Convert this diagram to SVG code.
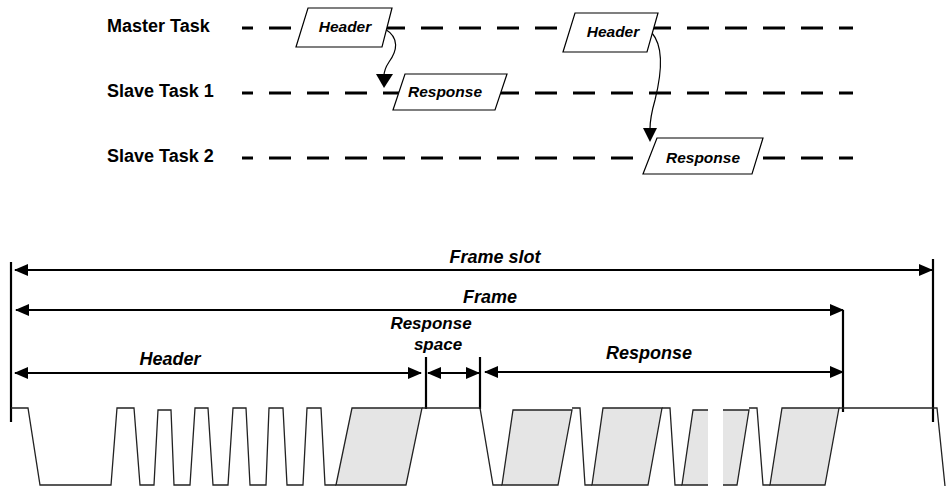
<svg xmlns="http://www.w3.org/2000/svg" width="948" height="486" viewBox="0 0 948 486">
<style>
.lbl{font-family:"Liberation Sans",Arial,sans-serif;font-weight:bold;font-size:18px;fill:#000}
.it{font-family:"Liberation Sans",Arial,sans-serif;font-weight:bold;font-style:italic;fill:#000}
.bx{font-size:15.5px}
.big{font-size:18px}
.sm{font-size:17px}
.dash{stroke:#000;stroke-width:3;stroke-dasharray:22 16;stroke-dashoffset:11;fill:none}
.box{fill:#fff;stroke:#000;stroke-width:1.2}
.curve{fill:none;stroke:#000;stroke-width:1.2}
.dim{stroke:#000;stroke-width:2;fill:none}
.tick{stroke:#000;stroke-width:2.2}
.wave{fill:none;stroke:#222;stroke-width:1.3;stroke-linejoin:miter}
.shade{fill:#e5e5e5;stroke:#222;stroke-width:1.3}
</style>
<defs>
<marker id="ah" markerWidth="14" markerHeight="12" refX="13" refY="6" orient="auto-start-reverse" markerUnits="userSpaceOnUse">
<path d="M0,0 L14,6 L0,12 Z" fill="#000"/>
</marker>
</defs>

<g id="row-labels">
<text class="lbl" x="107" y="32">Master Task</text>
<text class="lbl" x="107" y="97">Slave Task 1</text>
<text class="lbl" x="107" y="162">Slave Task 2</text>
</g>

<g id="timelines">
<line class="dash" x1="242" y1="28" x2="853" y2="28"/>
<line class="dash" x1="242" y1="93" x2="853" y2="93"/>
<line class="dash" x1="242" y1="158" x2="853" y2="158"/>
</g>

<g id="connectors">
<path class="curve" d="M385 29 C400 38,397 51,389 62 C385 68,384 71,384 76"/>
<path d="M376 74 L393 74 L384 88 Z" fill="#000"/>
<path class="curve" d="M652 33 C665 48,661 76,655 100 C651 114,650 121,650 129"/>
<path d="M643 128 L657 128 L650 142 Z" fill="#000"/>
</g>

<g id="header1">
<polygon class="box" points="308,8 392,8 382,47 296,47"/>
<text class="it bx" x="345" y="32" text-anchor="middle">Header</text>
</g>
<g id="response1">
<polygon class="box" points="405,74 507,74 495,110 393,110"/>
<text class="it bx" x="445" y="97" text-anchor="middle">Response</text>
</g>
<g id="header2">
<polygon class="box" points="575,13 658,13 647,52 563,52"/>
<text class="it bx" x="613" y="37" text-anchor="middle">Header</text>
</g>
<g id="response2">
<polygon class="box" points="657,138 763,138 752,174 643,174"/>
<text class="it bx" x="703" y="163" text-anchor="middle">Response</text>
</g>

<g id="dimensions">
<line class="tick" x1="11" y1="262" x2="11" y2="422"/>
<line class="tick" x1="426" y1="357" x2="426" y2="409"/>
<line class="tick" x1="480" y1="357" x2="480" y2="409"/>
<line class="tick" x1="843" y1="310" x2="843" y2="412"/>
<line class="tick" x1="933" y1="259" x2="933" y2="422"/>
<line class="dim" x1="15" y1="270" x2="932" y2="270" marker-start="url(#ah)" marker-end="url(#ah)"/>
<line class="dim" x1="16" y1="310" x2="843" y2="310" marker-start="url(#ah)" marker-end="url(#ah)"/>
<line class="dim" x1="15" y1="373" x2="421" y2="373" marker-start="url(#ah)" marker-end="url(#ah)"/>
<line class="dim" x1="428" y1="373" x2="479" y2="373" marker-start="url(#ah)" marker-end="url(#ah)"/>
<line class="dim" x1="485" y1="372" x2="843" y2="372" marker-start="url(#ah)" marker-end="url(#ah)"/>
<text class="it big" x="495" y="263" text-anchor="middle">Frame slot</text>
<text class="it big" x="490" y="303" text-anchor="middle">Frame</text>
<text class="it sm" x="431" y="329" text-anchor="middle">Response</text>
<text class="it sm" x="438" y="350" text-anchor="middle">space</text>
<text class="it big" x="170" y="365" text-anchor="middle">Header</text>
<text class="it big" x="649" y="359" text-anchor="middle">Response</text>
</g>

<g id="waveform">
<path class="wave" d="M11 408 L28 408 L40 485 L111 485 L117 408 L134 408 L140 485 L154 485 L158 410 L171 410 L174 485 L190 485 L195 408 L208 408 L213 485 L228 485 L233 408 L246 408 L250 485 L266 485 L269 408 L283 408 L287 485 L303 485 L307 408 L321 408 L325 485 L336 485"/>
<polygon class="shade" points="336,485 352,408 422,408 406,485"/>
<path class="wave" d="M422 408 L480 408 L493 485 L502 485"/>
<polygon class="shade" points="502,485 513,410 572,410 558,485"/>
<path class="wave" d="M572 408 L580 408 L585 485 L592 485"/>
<polygon class="shade" points="592,485 603,408 662,408 648,485"/>
<path class="wave" d="M662 408 L670 408 L675 485 L682 485"/>
<polygon class="shade" points="682,485 693,410 749,410 737,485"/>
<path class="wave" d="M749 408 L757 408 L763 485 L770 485"/>
<polygon class="shade" points="770,485 782,408 839,408 825,485"/>
<path class="wave" d="M839 408 L937 408 L945 486"/>
<rect x="708" y="404" width="15" height="82" fill="#fff"/>
</g>
</svg>
